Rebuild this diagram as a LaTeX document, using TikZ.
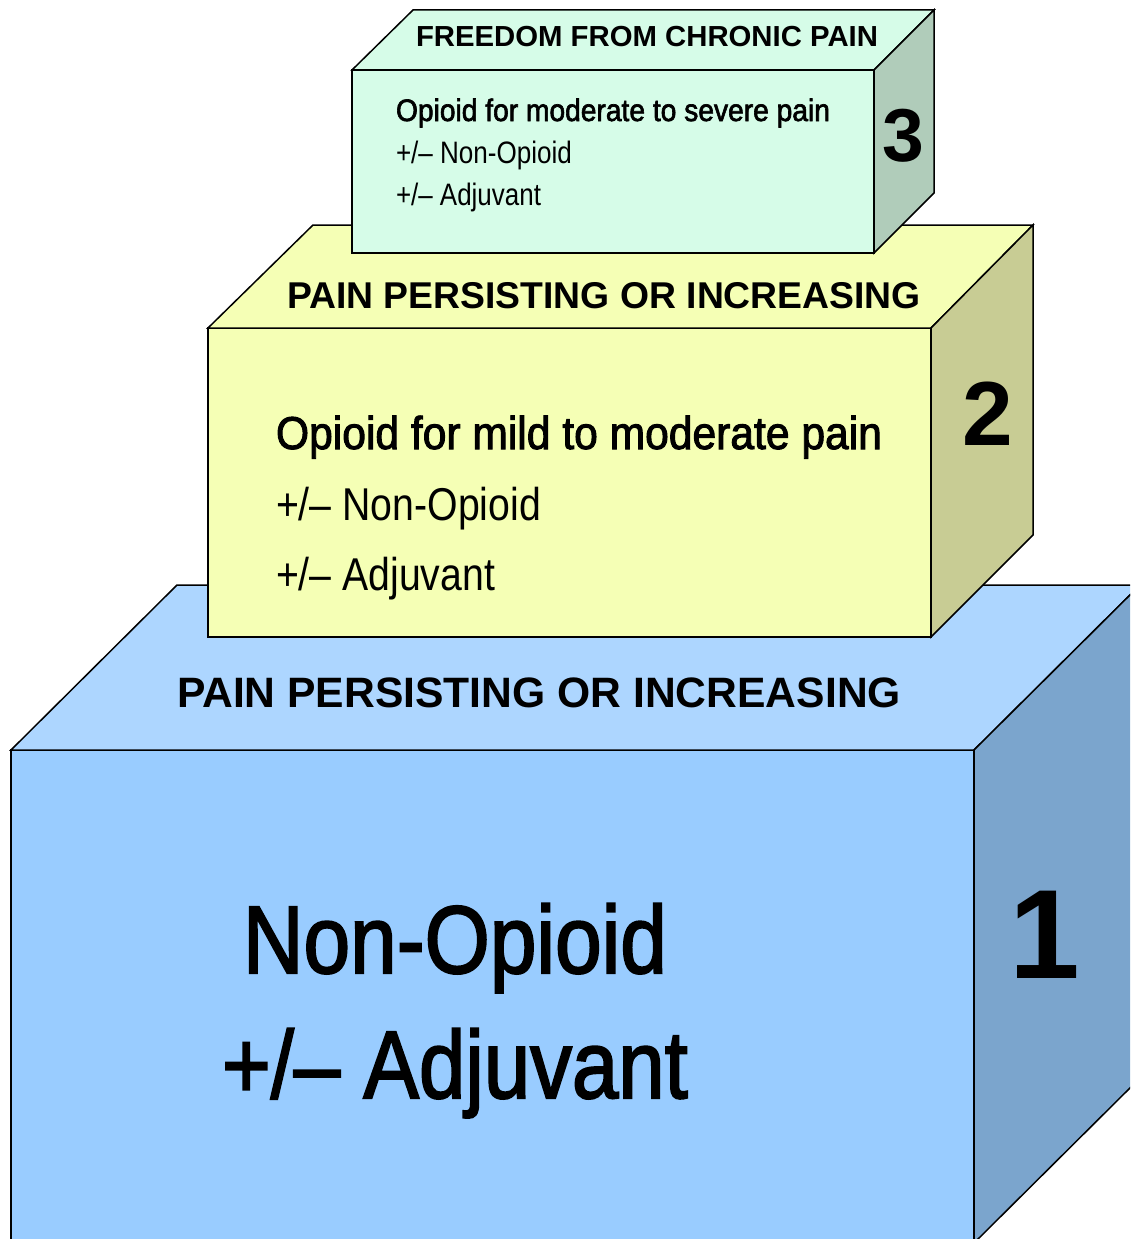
\documentclass[tikz,border=0pt]{standalone}
\usepackage{fontspec}
\setmainfont{Liberation Sans}
\newfontfamily\medfont{Liberation Sans}[FakeBold=2.2]
\usepackage{graphicx}
\newsavebox\fitbox
\newcommand\fitw[2]{\sbox\fitbox{#2}\scalebox{\fpeval{#1/(\number\wd\fitbox/65536)}}[1]{\usebox\fitbox}}
\definecolor{blueF}{HTML}{99CCFF}
\definecolor{blueT}{HTML}{ADD6FF}
\definecolor{blueS}{HTML}{7BA5CD}
\definecolor{yelF}{HTML}{F5FFB5}
\definecolor{yelT}{HTML}{F5FFB5}
\definecolor{yelS}{HTML}{C8CC94}
\definecolor{grnF}{HTML}{D6FCE8}
\definecolor{grnT}{HTML}{D6FCE8}
\definecolor{grnS}{HTML}{B0CCBA}
\tikzset{face/.style={draw=black, line width=1.5pt, line join=miter},
  txt/.style={anchor=base west, inner sep=0pt, outer sep=0pt},
  num/.style={anchor=base, inner sep=0pt, outer sep=0pt, font=\bfseries}}
\begin{document}
\begin{tikzpicture}[x=1pt,y=-1pt]
\useasboundingbox (0,0) rectangle (1130,1239);
\clip (0,0) rectangle (1130,1239);
% box 1
\filldraw[face, fill=blueF] (11,750) rectangle (974,1300);
\filldraw[face, fill=blueT] (11,750) -- (177,585) -- (1140,585) -- (974,750) -- cycle;
\filldraw[face, fill=blueS] (974,750) -- (1140,585) -- (1140,1078) -- (974,1243) -- cycle;
% box 2
\filldraw[face, fill=yelF] (208,328) rectangle (931,637);
\filldraw[face, fill=yelT] (208,328) -- (313,225) -- (1033,225) -- (931,328) -- cycle;
\filldraw[face, fill=yelS] (931,328) -- (1033,225) -- (1033,535) -- (931,637) -- cycle;
% box 3
\filldraw[face, fill=grnF] (352,70) rectangle (874,253);
\filldraw[face, fill=grnT] (352,70) -- (413,10) -- (934,10) -- (874,70) -- cycle;
\filldraw[face, fill=grnS] (874,70) -- (934,10) -- (934,193) -- (874,253) -- cycle;
% texts box 3
\node[txt] (h3) at (416,47) {\fitw{462}{\bfseries\fontsize{29}{30}\selectfont FREEDOM FROM CHRONIC PAIN}};
\node[txt] (b3a) at (396,121) {\fitw{434}{\medfont\fontsize{31}{34}\selectfont Opioid for moderate to severe pain}};
\node[txt] (b3b) at (396,163) {\fitw{176}{\fontsize{31}{34}\selectfont +/– Non-Opioid}};
\node[txt] (b3c) at (396,205) {\fitw{145}{\fontsize{31}{34}\selectfont +/– Adjuvant}};
\node[num] (n3) at (903,161) {\fontsize{75}{80}\selectfont 3};
% texts box 2
\node[txt] (h2) at (287,308) {\fitw{634}{\bfseries\fontsize{37.3}{40}\selectfont PAIN PERSISTING OR INCREASING}};
\node[txt] (b2a) at (276,449) {\fitw{606}{\medfont\fontsize{46}{50}\selectfont Opioid for mild to moderate pain}};
\node[txt] (b2b) at (276,520) {\fitw{265}{\fontsize{46}{50}\selectfont +/– Non-Opioid}};
\node[txt] (b2c) at (276,590) {\fitw{219}{\fontsize{46}{50}\selectfont +/– Adjuvant}};
\node[num] (n2) at (988,445) {\fontsize{91}{95}\selectfont 2};
% texts box 1
\node[txt] (h1) at (177,707) {\fitw{724}{\bfseries\fontsize{42.5}{45}\selectfont PAIN PERSISTING OR INCREASING}};
\node[txt] (b1a) at (243,973) {\fitw{424}{\medfont\fontsize{96}{100}\selectfont Non-Opioid}};
\node[txt] (b1b) at (222,1098) {\fitw{466}{\medfont\fontsize{96}{100}\selectfont +/– Adjuvant}};
\node[num] (n1) at (1045,978) {\fontsize{127}{130}\selectfont 1};
\end{tikzpicture}
\end{document}
